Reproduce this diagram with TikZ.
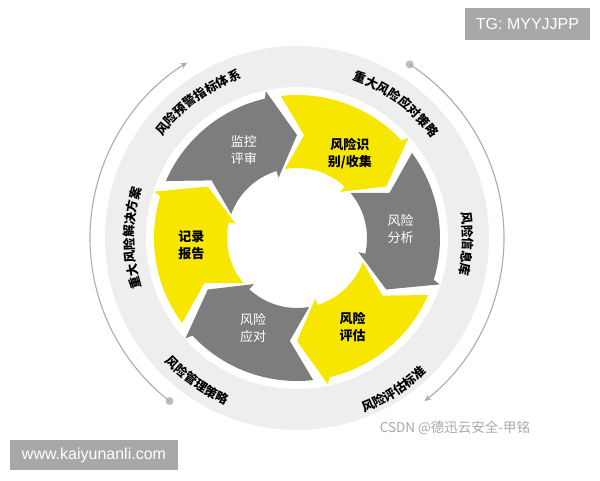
\documentclass[tikz,border=0pt]{standalone}
\usepackage{fontspec}
\setmainfont{Liberation Sans}
\newfontfamily\cjk{Noto Sans CJK SC}
\usetikzlibrary{arrows.meta,decorations.text}
\definecolor{arrgray}{RGB}{125,125,125}
\definecolor{arryellow}{RGB}{246,230,0}
\definecolor{ringgray}{RGB}{238,238,238}
\definecolor{linegray}{RGB}{172,172,172}
\definecolor{boxgray}{RGB}{168,168,168}
\newcommand\ringfont{\cjk\bfseries\fontsize{12.5}{14}\selectfont}

\begin{document}
\begin{tikzpicture}[x=1pt,y=1pt,
    stagelabel/.style={align=center, inner sep=0pt, font=\cjk\fontsize{13}{17}\selectfont},
    graylabel/.style={stagelabel, text=white},
    yellowlabel/.style={stagelabel, font=\cjk\bfseries\fontsize{13}{17}\selectfont},
    ringlabel/.style={decorate, decoration={text along path, text align=center, text={|\ringfont|#1}}},
    wmbox/.style={fill=boxgray, text=white, inner sep=0pt, font=\fontsize{16}{18}\selectfont}]
\useasboundingbox (0,0) rectangle (600,480);
\begin{scope}[shift={(297,242)}]
  % light outer ring
  \fill[ringgray, even odd rule] (0,0) circle[radius=192] (0,0) circle[radius=151];
  % thin arcs round the ring
  \tikzset{thinarc/.style={draw=linegray, line width=1.1pt, -{Stealth[length=7pt,width=6pt]}}}
  \coordinate (ldot) at (232:207);
  \coordinate (rdot) at (57:207);
  \fill[linegray!80] (ldot) circle[radius=4];
  \fill[linegray!80] (rdot) circle[radius=4];
  \draw[thinarc] (ldot) arc[start angle=232, end angle=122, radius=207];
  \draw[thinarc] (rdot) arc[start angle=57, end angle=-52, radius=207];
  % the six arrows
  \foreach \c/\col in {120/arrgray,60/arryellow,0/arrgray,-60/arryellow,-120/arrgray,180/arryellow}
    \fill[\col] ({\c+36.5}:143) arc[start angle={\c+36.5}, end angle={\c-17}, radius=143]
      -- ({\c-18}:150) -- ({\c-30}:103) -- ({\c-13}:63) -- ({\c-13}:70)
      arc[start angle={\c-13}, end angle={\c+40}, radius=70] -- ({\c+26}:103) -- cycle;
  \node[graylabel] (monitor) at (121:103) {监控\\评审};
  \node[yellowlabel] (identify) at (58:100) {风险识\\别/收集};
  \node[graylabel] (analyse) at (5:104) {风险\\分析};
  \node[yellowlabel] (assess) at (-58:105) {风险\\评估};
  \node[graylabel] (respond) at (-116:100) {风险\\应对};
  \node[yellowlabel] (report) at (184:106) {记录\\报告};
  % ring texts
  \path[ringlabel=风险预警指标体系] (156:169) arc[start angle=156, end angle=96, radius=169];
  \path[ringlabel=重大风险应对策略] (83.5:168) arc[start angle=83.5, end angle=23.5, radius=168];
  \path[ringlabel=风险信息库] (28:166) arc[start angle=28, end angle=-32, radius=166];
  \path[ringlabel=风险评估标准] (-87.5:187) arc[start angle=-87.5, end angle=-27.5, radius=187];
  \path[ringlabel=风险管理策略] (205:181) arc[start angle=205, end angle=265, radius=181];
  \path[ringlabel=重大风险解决方案] (210:163) arc[start angle=210, end angle=150, radius=163];
\end{scope}
% watermarks
\node[wmbox, minimum width=125pt, minimum height=32pt] (tg) at (527.5,456) {TG: MYYJJPP};
\node[wmbox, minimum width=168pt, minimum height=30pt] (www) at (94,25) {www.kaiyunanli.com};
\node[text=boxgray, font=\cjk\fontsize{13.5}{15}\selectfont] (csdn) at (455,52) {CSDN @德迅云安全-甲铭};
\end{tikzpicture}
\end{document}
